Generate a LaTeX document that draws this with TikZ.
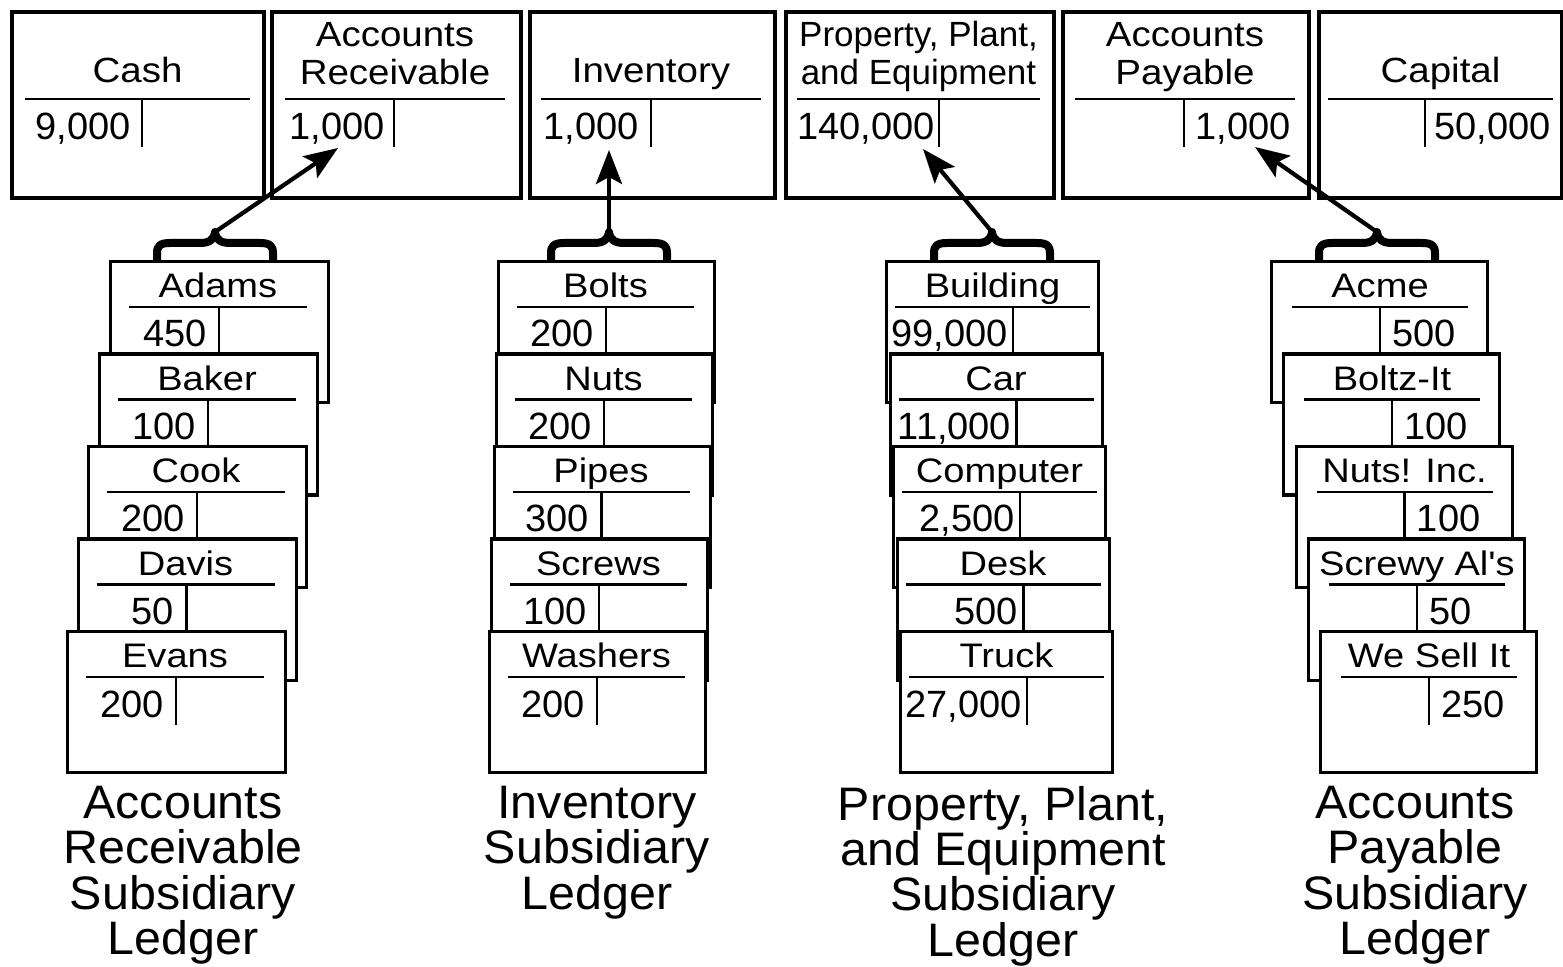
\documentclass[tikz,border=0pt]{standalone}
\usepackage{fontspec}
\setmainfont{Liberation Sans}
\newfontfamily\titlefont[FakeStretch=1.1]{Liberation Sans}
\newfontfamily\namefont[FakeStretch=1.12]{Liberation Sans}
\newfontfamily\labelfont[FakeStretch=1.03]{Liberation Sans}
\usetikzlibrary{arrows.meta}
\tikzset{
  acct/.style={draw, line width=2pt, fill=white, inner sep=0pt, anchor=north west, minimum height=93pt},
  cardbox/.style={draw, line width=1.6pt, fill=white, inner sep=0pt, anchor=north west, minimum height=70.5pt},
  trule/.style={line width=1.3pt},
  ttl/.style={inner sep=0pt, font=\titlefont\fontsize{17.5}{19}\selectfont, align=center},
  ttlplain/.style={inner sep=0pt, font=\fontsize{17.5}{19}\selectfont, align=center},
  num/.style={inner sep=0pt, font=\fontsize{19}{22}\selectfont},
  cname/.style={inner sep=0pt, font=\namefont\fontsize{17}{20}\selectfont, anchor=base},
  lbl/.style={inner sep=0pt, font=\labelfont\fontsize{23.5}{22.6}\selectfont, align=center, anchor=north},
  bracestyle/.style={line width=4pt, line join=round},
  link/.style={line width=2.1pt, -{Stealth[length=17pt,width=13pt,inset=3.5pt]}}
}
\newcommand\ledgerbrace[2]{%
  \coordinate (#2) at (#1,232);
  \draw[bracestyle] (#1-58,262) -- (#1-58,253)
    .. controls (#1-58,246) and (#1-55,243) .. (#1-45,243) -- (#1-15,243)
    .. controls (#1-6,243) and (#1-1,240) .. (#2)
    .. controls (#1+1,240) and (#1+6,243) .. (#1+15,243) -- (#1+45,243)
    .. controls (#1+55,243) and (#1+58,246) .. (#1+58,253) -- (#1+58,262);
}
\begin{document}
\begin{tikzpicture}[x=0.5pt,y=-0.5pt]
\useasboundingbox (0,0) rectangle (1563,967);

% ---- general ledger T-accounts ----
\node[acct, minimum width=126pt] (cash) at (10,10) {};
\node[acct, minimum width=124.5pt] (ar) at (270,10) {};
\node[acct, minimum width=122.5pt] (inv) at (528,10) {};
\node[acct, minimum width=134pt] (ppe) at (784,10) {};
\node[acct, minimum width=123pt] (ap) at (1061,10) {};
\node[acct, minimum width=121.5pt] (capt) at (1317,10) {};

\draw[trule] (25,99) -- (250,99) (142,99) -- (142,147);
\draw[trule] (285,99) -- (505,99) (394,99) -- (394,147);
\draw[trule] (541,99) -- (761,99) (651,99) -- (651,147);
\draw[trule] (797,99) -- (1040,99) (939,99) -- (939,147);
\draw[trule] (1075,99) -- (1295,99) (1184,99) -- (1184,147);
\draw[trule] (1328,99) -- (1553,99) (1425,99) -- (1425,147);

\node[ttl, anchor=base] (cashT) at (137.5,83) {Cash};
\node[ttl, anchor=north] (arT) at (395,22) {Accounts\\Receivable};
\node[ttl, anchor=base] (invT) at (651,83) {Inventory};
\node[ttlplain, anchor=north] (ppeT) at (918.5,21) {Property, Plant,\\and Equipment};
\node[ttl, anchor=north] (apT) at (1185,22) {Accounts\\Payable};
\node[ttl, anchor=base] (captT) at (1440.5,83) {Capital};

\node[num, anchor=base east] (cashN) at (131,140) {9,000};
\node[num, anchor=base east] (arN) at (385,140) {1,000};
\node[num, anchor=base east] (invN) at (639,140) {1,000};
\node[num, anchor=base east] (ppeN) at (935,140) {140,000};
\node[num, anchor=base west] (apN) at (1195,140) {1,000};
\node[num, anchor=base west] (captN) at (1434,140) {50,000};

% ---- Accounts Receivable subsidiary ledger ----
\foreach \lx/\ty/\nm/\amt [count=\i] in {109/260/Adams/450, 98/352.5/Baker/100, 87/445/Cook/200, 76.5/537.5/Davis/50, 66/630/Evans/200}{
  \node[cardbox, minimum width=109pt] (arc\i) at (\lx,\ty) {};
  \draw[trule] (\lx+20,\ty+47) -- (\lx+198,\ty+47) (\lx+110,\ty+47) -- (\lx+110,\ty+95);
  \node[cname] (arcn\i) at (\lx+109,\ty+38) {\nm};
  \node[num, anchor=base east] (arca\i) at (\lx+98,\ty+87) {\amt};
}
% ---- Inventory subsidiary ledger ----
\foreach \lx/\ty/\nm/\amt [count=\i] in {497/260/Bolts/200, 495/352.5/Nuts/200, 492.5/445/Pipes/300, 490/537.5/Screws/100, 488/630/Washers/200}{
  \node[cardbox, minimum width=108pt] (invc\i) at (\lx,\ty) {};
  \draw[trule] (\lx+20,\ty+47) -- (\lx+197,\ty+47) (\lx+109,\ty+47) -- (\lx+109,\ty+95);
  \node[cname] (invcn\i) at (\lx+108.5,\ty+38) {\nm};
  \node[num, anchor=base east] (invca\i) at (\lx+97,\ty+87) {\amt};
}
% ---- PP&E subsidiary ledger ----
\foreach \lx/\ty/\nm/\amt [count=\i] in {885/260/Building/{99,000}, 888.5/352.5/Car/{11,000}, 892/445/Computer/{2,500}, 895.5/537.5/Desk/500, 899/630/Truck/{27,000}}{
  \node[cardbox, minimum width=106pt] (ppec\i) at (\lx,\ty) {};
  \draw[trule] (\lx+10,\ty+47) -- (\lx+205,\ty+47) (\lx+128,\ty+47) -- (\lx+128,\ty+95);
  \node[cname] (ppecn\i) at (\lx+107.5,\ty+38) {\nm};
  \node[num, anchor=base east] (ppeca\i) at (\lx+123,\ty+87) {\amt};
}
% ---- Accounts Payable subsidiary ledger ----
\foreach \lx/\ty/\nm/\amt [count=\i] in {1270/260/Acme/500, 1282/352.5/Boltz-It/100, 1294.5/445/Nuts! Inc./100, 1307/537.5/Screwy Al's/50, 1319/630/We Sell It/250}{
  \node[cardbox, minimum width=108pt] (apc\i) at (\lx,\ty) {};
  \draw[trule] (\lx+22,\ty+47) -- (\lx+198,\ty+47) (\lx+110,\ty+47) -- (\lx+110,\ty+95);
  \node[cname] (apcn\i) at (\lx+110,\ty+38) {\nm};
  \node[num, anchor=base west] (apca\i) at (\lx+122,\ty+87) {\amt};
}

% ---- braces and arrows ----
\ledgerbrace{215}{arcusp}
\ledgerbrace{609}{invcusp}
\ledgerbrace{992}{ppecusp}
\ledgerbrace{1377}{apcusp}

\coordinate (artip) at (338,148);
\coordinate (invtip) at (609,150);
\coordinate (ppetip) at (923,149);
\coordinate (aptip) at (1255,147);
\draw[link] (arcusp) -- (artip);
\draw[link] (invcusp) -- (invtip);
\draw[link] (ppecusp) -- (ppetip);
\draw[link] (apcusp) -- (aptip);

% ---- ledger labels ----
\node[lbl] (arL) at (183,786) {Accounts\\Receivable\\Subsidiary\\Ledger};
\node[lbl] (invL) at (597,786) {Inventory\\Subsidiary\\Ledger};
\node[lbl] (ppeL) at (1003,786) {Property, Plant,\\and Equipment\\Subsidiary\\Ledger};
\node[lbl] (apL) at (1415,786) {Accounts\\Payable\\Subsidiary\\Ledger};
\end{tikzpicture}
\end{document}
